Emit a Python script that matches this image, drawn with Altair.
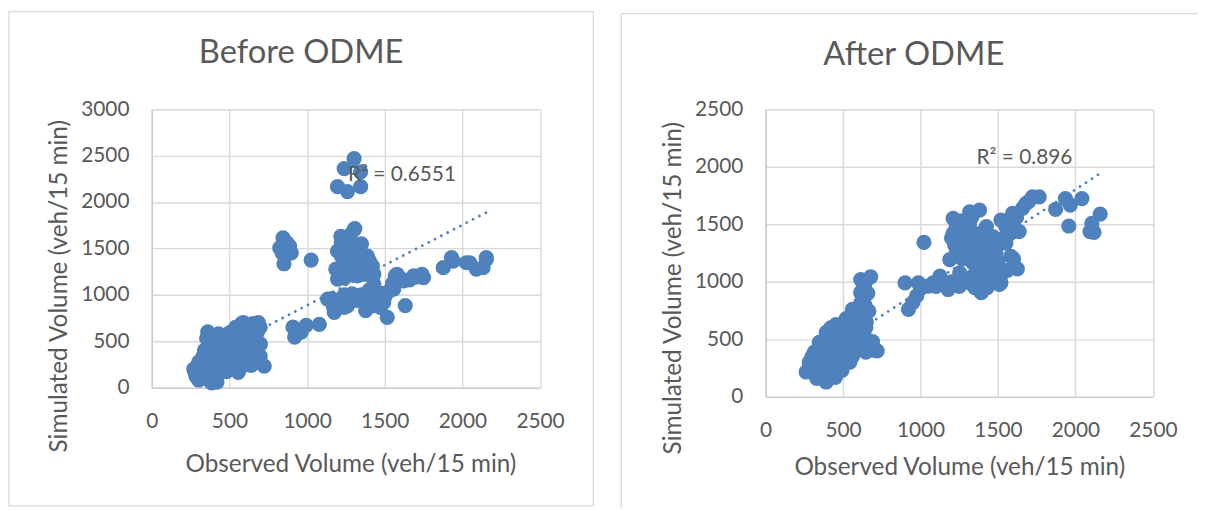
import altair as alt
import pandas as pd

# ---------------- data ----------------
before_obs = [277, 334, 398, 481, 557, 302, 398, 385, 302, 366, 443, 526, 609, 673,
              340, 417, 494, 589, 660, 353, 430, 506, 596, 673, 360, 470, 577, 634, 698,
              589, 653, 686, 724, 698, 290, 455, 540, 620, 410, 515,
              285, 320, 350, 420, 450, 510, 580, 640, 660, 620, 560, 500, 450, 390, 330,
              310, 370, 380, 450, 520, 560, 620, 640, 560, 500, 430, 390, 540, 610, 470,
              680, 700, 690, 270, 420,
              845, 888, 824, 898, 856, 851, 870, 870, 840, 880, 1026,
              1307, 1217, 1260, 1196, 1324, 1388, 1239, 1185, 1196, 1324, 1281, 1420, 1367,
              1260, 1303, 1239, 1324, 1430, 1303,
              1220, 1280, 1350, 1300, 1220, 1280, 1350, 1300, 1230, 1270, 1400, 1360, 1240, 1370,
              1303, 1239, 1345, 1196, 1260, 1345,
              1877, 2047, 2154, 1930, 1941, 2026, 2090, 2154, 2133,
              1579, 1686, 1750, 1632, 1622, 1739, 1568, 1558,
              1132, 1196, 1260, 1324, 1175, 1239, 1377, 1430, 1452, 1473, 1516, 1494, 1400, 1290,
              1160, 1220, 1290, 1350, 1400, 1380, 1430, 1470, 1460, 1420, 1500, 1520, 1260,
              1320, 1200, 1170, 1550, 1600, 1660, 1700, 1240, 1300,
              909, 920, 994, 1079, 962]
before_sim = [168, 175, 160, 172, 165, 82, 90, 50, 275, 280, 270, 278, 272, 268,
              403, 398, 410, 400, 405, 531, 528, 535, 525, 530, 600, 560, 688, 640, 650,
              702, 690, 700, 232, 339, 220, 340, 460, 350, 470, 600,
              120, 130, 100, 120, 200, 220, 230, 240, 320, 330, 340, 350, 340, 330, 340,
              210, 220, 460, 470, 470, 480, 460, 580, 600, 590, 580, 560, 650, 680, 520,
              600, 470, 280, 200, 60,
              1613, 1525, 1506, 1453, 1560, 1335, 1480, 1560, 1450, 1520, 1375,
              1714, 1631, 1578, 1471, 1489, 1418, 1364, 1276, 1169, 1204, 1293, 1311, 1364,
              1436, 1436, 1506, 1346, 1222, 1703,
              1560, 1650, 1550, 1500, 1420, 1380, 1420, 1340, 1250, 1230, 1370, 1280, 1180, 1220,
              2468, 2361, 2326, 2166, 2113, 2166,
              1293, 1346, 1400, 1400, 1364, 1346, 1276, 1382, 1293,
              1222, 1204, 1186, 884, 1150, 1222, 1204, 1062,
              955, 937, 990, 990, 812, 865, 830, 1115, 990, 865, 758, 919, 1050, 960,
              960, 960, 1010, 1000, 970, 900, 1050, 1020, 950, 880, 980, 1030, 880,
              940, 880, 870, 1120, 1180, 1160, 1190, 1000, 950,
              652, 545, 670, 681, 598]

after_obs = [262, 327, 410, 493, 391, 282, 365, 455, 544, 314, 391, 480, 570, 647,
             346, 429, 519, 608, 391, 474, 557, 634, 455, 544, 621, 570, 634,
             615, 621, 614, 678, 614, 622, 666, 614, 698, 647, 300, 440, 520,
             280, 350, 440, 300, 360, 420, 500, 560, 610, 540, 460, 400, 360, 380, 460,
             540, 590, 420, 500, 580, 520, 600, 560, 640, 600, 650, 690, 720, 330, 450,
             380, 640, 660, 640,
             900, 922, 1022, 986, 1082, 975, 1050, 1178, 1264, 1392, 1338, 1519, 1317,
             1509, 1189, 1125, 1253, 1381, 1445,
             1210, 1317, 1381, 1210, 1274, 1425, 1466, 1189, 1296, 1381, 1487, 1509, 1425,
             1583, 1625, 1551, 1594, 1637, 1723, 1766, 1231, 1317, 1253, 1338, 1425, 1338,
             1466, 1551, 1519, 1658,
             1200, 1220, 1260, 1300, 1350, 1400, 1440, 1480, 1230, 1270, 1330, 1360, 1420,
             1450, 1500, 1400, 1450, 1520, 1560, 1600, 1260, 1330, 1550, 1600, 1620, 1680,
             1700, 1580, 1480, 1430, 1300, 1250, 1150, 1100, 1000, 950, 1200, 1350,
             1935, 1872, 2042, 1957, 2106, 2160, 2094, 1967, 2120]
after_sim = [216, 200, 216, 230, 129, 302, 310, 295, 302, 388, 380, 392, 385, 388,
             474, 470, 480, 474, 560, 555, 565, 560, 629, 635, 629, 716, 700,
             819, 922, 1020, 1043, 905, 790, 745, 675, 405, 603, 250, 420, 350,
             250, 250, 260, 350, 340, 330, 340, 350, 420, 430, 430, 430, 420, 500, 520,
             510, 540, 600, 600, 600, 680, 680, 760, 800, 760, 650, 480, 400, 160, 170,
             200, 700, 900, 980,
             991, 761, 1342, 991, 991, 877, 962, 933, 1020, 905, 1049, 991, 991,
             977, 962, 1049, 1078, 1020, 991,
             1552, 1609, 1624, 1422, 1365, 1480, 1394, 1192, 1221, 1279, 1250, 1106, 1049,
             1221, 1112, 1480, 1595, 1437, 1739, 1739, 1480, 1509, 1308, 1336, 1365, 1164,
             1164, 1336, 1537, 1638,
             1380, 1320, 1420, 1440, 1420, 1430, 1300, 1330, 1250, 1200, 1260, 1200, 1250,
             1200, 1180, 1120, 1100, 1060, 1100, 1200, 1530, 1560, 1400, 1520, 1560, 1680,
             1700, 1420, 1000, 950, 1010, 960, 990, 960, 940, 820, 1000, 950,
             1724, 1629, 1724, 1485, 1509, 1589, 1437, 1667, 1430]

before_trend_obs = [270, 2165]
before_trend_sim = [254, 1897]
after_trend_obs = [250, 2160]
after_trend_sim = [268, 1943]

x_ticks = [0, 500, 1000, 1500, 2000, 2500]
before_y_ticks = [0, 500, 1000, 1500, 2000, 2500, 3000]
after_y_ticks = [0, 500, 1000, 1500, 2000, 2500]

panel_titles = ["Before ODME", "After ODME"]
r2_labels = ["R² = 0.6551", "R² = 0.896"]
r2_obs = [1611, 1671]
r2_sim = [2290, 2078]

x_title = "Observed Volume (veh/15 min)"
y_title = "Simulated Volume (veh/15 min)"

# ---------------- styling ----------------
BLUE = "#4F81BD"
TEXT = "#595959"
FONT = "Lato"
GRID = "#D9D9D9"


def panel(obs, sim, tobs, tsim, yticks, title, r2, r2x, r2y, w, h,
          frame, title_xy, xpad, ytitle_y, xtitle_x):
    pts = pd.DataFrame({"obs": obs, "sim": sim})
    trend = pd.DataFrame({"obs": tobs, "sim": tsim})
    one = pd.DataFrame({"a": [0]})

    xscale = alt.Scale(domain=[0, 2500], nice=False, zero=False)
    yscale = alt.Scale(domain=[0, yticks[-1]], nice=False, zero=False)
    xaxis = alt.Axis(values=x_ticks, title=x_title, labelPadding=23, format="d",
                     labelOverlap=False, labelFlush=False,
                     titlePadding=xpad, titleX=xtitle_x)
    yaxis = alt.Axis(values=yticks, title=y_title, labelPadding=23, format="d",
                     labelOverlap=False, labelFlush=False,
                     titlePadding=9, titleY=ytitle_y)

    points = alt.Chart(pts).mark_circle(size=235, color=BLUE, opacity=1).encode(
        x=alt.X("obs:Q", scale=xscale, axis=xaxis),
        y=alt.Y("sim:Q", scale=yscale, axis=yaxis),
    )
    line = alt.Chart(trend).mark_line(
        color=BLUE, strokeWidth=2.8, strokeDash=[0.01, 7.2], strokeCap="round"
    ).encode(x=alt.X("obs:Q", scale=xscale), y=alt.Y("sim:Q", scale=yscale))

    r2df = pd.DataFrame({"obs": [r2x], "sim": [r2y], "t": [r2]})
    r2text = alt.Chart(r2df).mark_text(
        font=FONT, fontSize=21, color=TEXT, align="center", baseline="middle"
    ).encode(x=alt.X("obs:Q", scale=xscale), y=alt.Y("sim:Q", scale=yscale), text="t:N")

    ttl = alt.Chart(pd.DataFrame({"t": [title]})).mark_text(
        font=FONT, fontSize=33, color=TEXT, align="center", baseline="middle"
    ).encode(x=alt.value(title_xy[0]), y=alt.value(title_xy[1]), text="t:N")

    layers = [frame(one), points, line, r2text, ttl]
    return alt.layer(*layers).properties(width=w, height=h)


def left_frame(one):
    return alt.Chart(one).mark_rect(filled=False, stroke=GRID, strokeWidth=1.3).encode(
        x=alt.value(-144), x2=alt.value(445.3), y=alt.value(-98.4), y2=alt.value(400)
    )


def right_frame(one):
    top = alt.Chart(one).mark_rule(color=GRID, strokeWidth=1.3).encode(
        x=alt.value(-145.5), x2=alt.value(436), y=alt.value(-96.4)
    )
    left = alt.Chart(one).mark_rule(color=GRID, strokeWidth=1.3).encode(
        x=alt.value(-145.5), y=alt.value(-96.4), y2=alt.value(402)
    )
    return alt.layer(top, left)


left = panel(before_obs, before_sim, before_trend_obs, before_trend_sim,
             before_y_ticks, panel_titles[0], r2_labels[0], r2_obs[0], r2_sim[0],
             391.5, 280.7, left_frame, (150.6, -57), 21.5, 178, 200.3)
right = panel(after_obs, after_sim, after_trend_obs, after_trend_sim,
              after_y_ticks, panel_titles[1], r2_labels[1], r2_obs[1], r2_sim[1],
              390.5, 290, right_frame, (149.4, -55), 15.5, 180, 195.3)

chart = alt.hconcat(left, right, spacing=26).properties(padding=0).configure_view(
    strokeOpacity=0
).configure_axis(
    grid=True, gridColor=GRID, gridWidth=1.4, domain=True, domainColor="#C8C8C8",
    domainWidth=1.4, ticks=False, labelFont=FONT, labelFontSize=21, labelColor=TEXT,
    titleFont=FONT, titleFontSize=24.5, titleFontWeight="normal", titleColor=TEXT,
)

chart.save("out.html", embed_options={"renderer": "svg", "actions": False})
